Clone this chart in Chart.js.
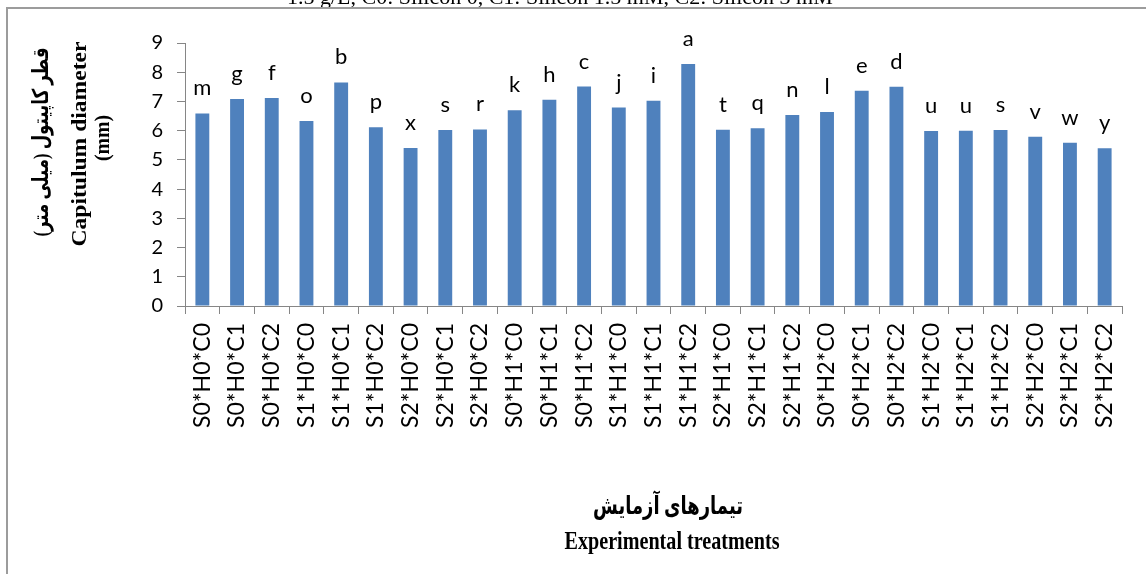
<!DOCTYPE html>
<html lang="en">
<head>
  <meta charset="UTF-8">
  <title>Capitulum diameter</title>
  <script src="https://cdn.jsdelivr.net/npm/chart.js"></script>
  <style>
    body {
      margin: 0;
      background: #ffffff;
    }
    #chart {
      display: block;
    }
  </style>
</head>
<body>

  <canvas id="chart" width="1146" height="574"></canvas>

  <script>
    // treatments (salinity * humic acid * silicon)
    const treatments = [
      'S0*H0*C0', 'S0*H0*C1', 'S0*H0*C2', 'S1*H0*C0', 'S1*H0*C1', 'S1*H0*C2',
      'S2*H0*C0', 'S2*H0*C1', 'S2*H0*C2', 'S0*H1*C0', 'S0*H1*C1', 'S0*H1*C2',
      'S1*H1*C0', 'S1*H1*C1', 'S1*H1*C2', 'S2*H1*C0', 'S2*H1*C1', 'S2*H1*C2',
      'S0*H2*C0', 'S0*H2*C1', 'S0*H2*C2', 'S1*H2*C0', 'S1*H2*C1', 'S1*H2*C2',
      'S2*H2*C0', 'S2*H2*C1', 'S2*H2*C2'
    ];
    const diameters = [
      6.59, 7.08, 7.12, 6.33, 7.65, 6.12, 5.41, 6.02, 6.04,
      6.70, 7.06, 7.51, 6.79, 7.02, 8.28, 6.03, 6.08, 6.54,
      6.64, 7.37, 7.50, 5.99, 6.00, 6.02, 5.79, 5.59, 5.40
    ];
    const letters = [
      'm', 'g', 'f', 'o', 'b', 'p', 'x', 's', 'r',
      'k', 'h', 'c', 'j', 'i', 'a', 't', 'q', 'n',
      'l', 'e', 'd', 'u', 'u', 's', 'v', 'w', 'y'
    ];
    const yMin = 0;
    const yMax = 9;
    const yStep = 1;

    const topNote = '1.5 g/L, C0: Silicon 0, C1: Silicon 1.5 mM, C2: Silicon 3 mM';
    const yTitleFa = 'قطر کاپیتول (میلی متر)';
    const yTitleEn = ['Capitulum diameter', '(mm)'];
    const xTitleFa = 'تیمارهای آزمایش';
    const xTitleEn = 'Experimental treatments';

    const axisGray = '#868686';
    const serifBold = "bold 22px 'Liberation Serif', 'DejaVu Sans', serif";
    const serifBoldTall = "bold 25px 'Liberation Serif', 'DejaVu Sans', serif";

    // draws text stretched/squeezed along its direction to a given length
    function fittedText(ctx, text, cx, cy, font, len, rotated) {
      ctx.save();
      ctx.font = font;
      ctx.textAlign = 'center';
      ctx.textBaseline = 'middle';
      ctx.translate(cx, cy);
      if (rotated) ctx.rotate(-Math.PI / 2);
      const w = ctx.measureText(text).width;
      ctx.scale(len / w, 1);
      ctx.fillText(text, 0, 0);
      ctx.restore();
    }

    const extras = {
      id: 'extras',
      afterDraw(chart) {
        const ctx = chart.ctx;
        ctx.save();
        ctx.fillStyle = '#000';

        // letters of mean comparison above bars
        const meta = chart.getDatasetMeta(0);
        ctx.font = "22px Lato, 'Open Sans', sans-serif";
        ctx.textAlign = 'center';
        ctx.textBaseline = 'alphabetic';
        meta.data.forEach((bar, i) => {
          ctx.fillText(letters[i], bar.x, bar.y - 18);
        });

        // cut-off caption line above the frame
        ctx.font = "22px 'Liberation Serif', serif";
        ctx.textAlign = 'left';
        ctx.fillText(topNote, 287, 4);

        // frame
        ctx.fillStyle = '#9c9c9c';
        ctx.fillRect(6, 7, 1140, 2);
        ctx.fillRect(6, 7, 2, 567);

        // axis titles
        ctx.fillStyle = '#000';
        fittedText(ctx, yTitleFa, 42, 142, serifBold, 189, true);
        fittedText(ctx, yTitleEn[0], 80, 144, serifBold, 205, true);
        fittedText(ctx, yTitleEn[1], 103, 138, serifBold, 46, true);
        fittedText(ctx, xTitleFa, 668, 508, serifBoldTall, 150, false);
        fittedText(ctx, xTitleEn, 672, 543, serifBoldTall, 215, false);
        ctx.restore();
      }
    };

    new Chart(document.getElementById('chart'), {
      type: 'bar',
      data: {
        labels: treatments,
        datasets: [{
          data: diameters,
          backgroundColor: '#4F81BD',
          borderWidth: 0,
          barPercentage: 0.4,
          categoryPercentage: 1
        }]
      },
      options: {
        responsive: false,
        animation: false,
        layout: {
          padding: { top: 43, right: 24, left: 0, bottom: 0 }
        },
        plugins: {
          legend: { display: false },
          tooltip: { enabled: false }
        },
        scales: {
          x: {
            afterFit: (scale) => { scale.height = 268; },
            border: { color: axisGray, width: 1 },
            grid: { drawOnChartArea: false, color: axisGray, tickLength: 8 },
            ticks: {
              color: '#000',
              font: { family: "Lato, 'Open Sans', sans-serif", size: 23 },
              minRotation: 90,
              maxRotation: 90,
              autoSkip: false,
              padding: 9
            }
          },
          y: {
            min: yMin,
            max: yMax,
            afterFit: (scale) => { scale.width = 185; },
            border: { color: axisGray, width: 1 },
            grid: { drawOnChartArea: false, color: axisGray, tickLength: 8 },
            ticks: {
              stepSize: yStep,
              color: '#000',
              font: { family: "Lato, 'Open Sans', sans-serif", size: 20 },
              padding: 14
            }
          }
        }
      },
      plugins: [extras]
    });
  </script>

</body>
</html>
